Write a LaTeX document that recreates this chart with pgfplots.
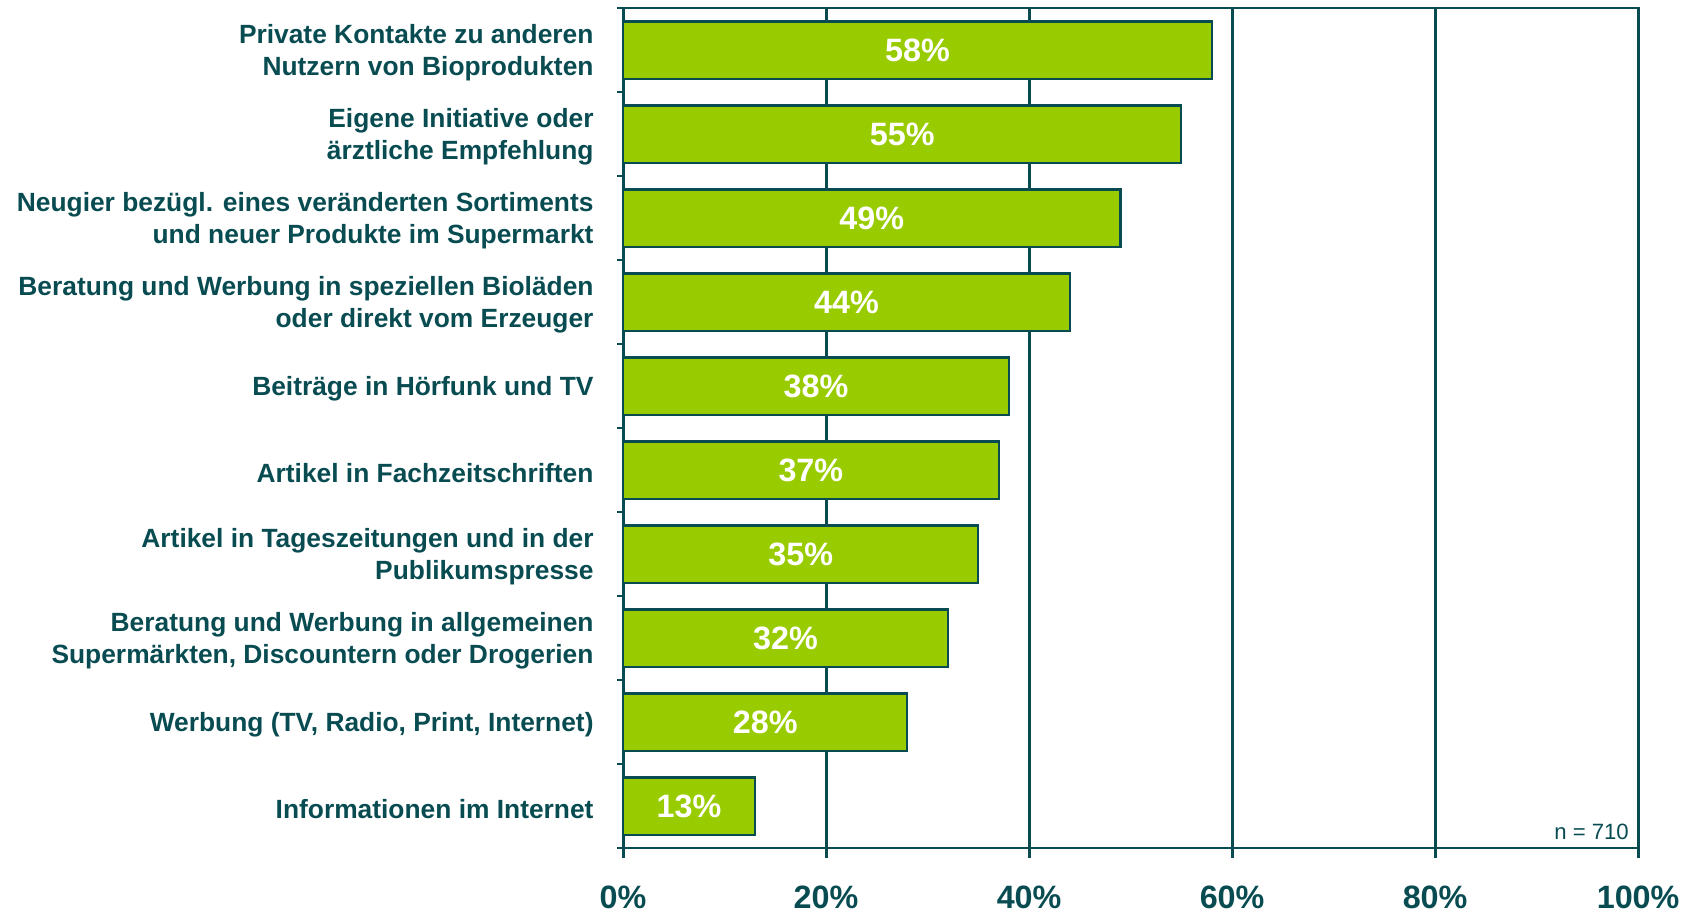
\documentclass[border=0pt]{standalone}
\usepackage{pgfplots}
\usepackage{pgfplotstable}
\usepackage{fontspec}
\setmainfont{Liberation Sans}
\pgfplotsset{compat=1.18}
\definecolor{tealdark}{RGB}{8,76,82}
\definecolor{bargreen}{RGB}{153,204,0}

\pgfplotstableread{
idx v
1 58
2 55
3 49
4 44
5 38
6 37
7 35
8 32
9 28
10 13
}\datatable

\begin{document}
\begin{tikzpicture}
\begin{axis}[
    scale only axis,
    width=10.15cm,
    height=8.40cm,
    xmin=0, xmax=100,
    ymin=0.5, ymax=10.5,
    y dir=reverse,
    axis line style={tealdark, line width=0.8pt},
    tick pos=left,
    xtick={0,20,...,100},
    xticklabel={\pgfmathprintnumber{\tick}\%},
    /pgf/number format/assume math mode=true,
    xmajorgrids,
    grid style={tealdark, line width=0.8pt},
    tick align=outside,
    major tick length=0.1cm,
    minor tick length=0.06cm,
    x tick style={tealdark, line width=0.8pt},
    x tick label style={font=\bfseries\fontsize{9.2}{10}\selectfont, text=tealdark, inner sep=1pt, yshift=-0.235cm},
    ytick={1,...,10},
    major y tick style={draw=none},
    minor ytick={0.5,1.5,...,10.5},
    minor y tick style={tealdark, line width=0.6pt},
    yticklabels={
        {Private Kontakte zu anderen\\Nutzern von Bioprodukten},
        {Eigene Initiative oder\\ärztliche Empfehlung},
        {Neugier bezügl. eines veränderten Sortiments\\und neuer Produkte im Supermarkt},
        {Beratung und Werbung in speziellen Bioläden\\oder direkt vom Erzeuger},
        {Beiträge in Hörfunk und TV},
        {Artikel in Fachzeitschriften},
        {Artikel in Tageszeitungen und in der\\Publikumspresse},
        {Beratung und Werbung in allgemeinen\\Supermärkten, Discountern oder Drogerien},
        {Werbung (TV, Radio, Print, Internet)},
        {Informationen im Internet}
    },
    y tick label style={font=\bfseries\fontsize{7.5}{9.1}\selectfont, text=tealdark, align=right, inner ysep=2pt, inner xsep=4.8pt, xshift=-0.02cm, yshift=-0.03cm},
]
\addplot [xbar, bar width=0.68, fill=bargreen, draw=tealdark, line width=0.6pt] table [x=v, y=idx] {\datatable};
\addplot [draw=none, mark=none, forget plot,
    nodes near coords={\pgfmathprintnumber{\pgfplotspointmeta}\%},
    point meta=explicit,
    nodes near coords style={anchor=center, text=white, font=\bfseries\fontsize{9.2}{10}\selectfont},
] table [x expr=\thisrow{v}/2, y=idx, meta=v] {\datatable};
\node[anchor=south east, text=tealdark, font=\fontsize{6.3}{7}\selectfont, inner sep=1pt] at (rel axis cs:0.995,0.005) {n = 710};
\end{axis}
\path ([yshift=0.08cm]current axis.north);
\end{tikzpicture}
\end{document}
